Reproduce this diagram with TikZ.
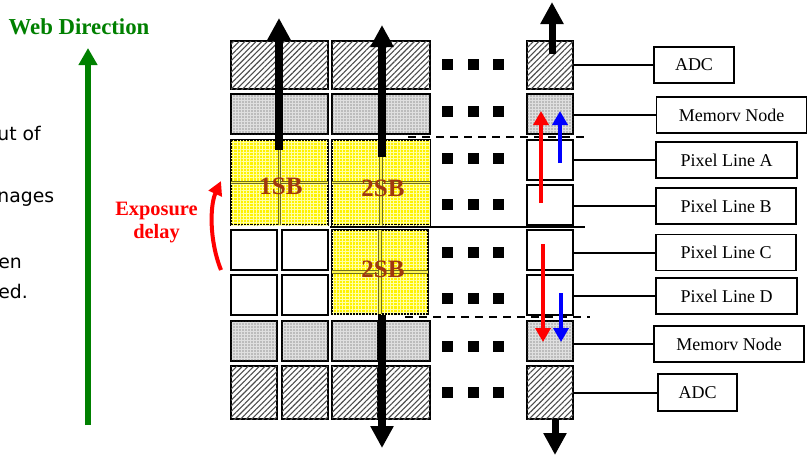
\documentclass[tikz,border=0pt]{standalone}
\usepackage{fontspec}
\setmainfont{Liberation Serif}
\newfontfamily\handfont{DejaVu Sans}
\usepackage{tikz}
\usetikzlibrary{arrows.meta, positioning, calc, patterns, patterns.meta}
\definecolor{webgreen}{RGB}{0,128,0}
\definecolor{sbbrown}{RGB}{160,55,15}
\definecolor{sbedge}{RGB}{110,110,30}
\tikzset{
  cell/.style={rectangle, draw=black, line width=1pt, inner sep=0pt, outer sep=0pt},
  adccell/.style={cell, fill=white,
    postaction={pattern={Lines[angle=45,distance=2pt,line width=0.55pt]}, pattern color=black!70}},
  memcell/.style={cell, fill=gray!25,
    postaction={pattern={Dots[distance=1.5pt,radius=0.35pt]}, pattern color=black!70}},
  pixcell/.style={cell, fill=white},
  sbcell/.style={cell, fill=yellow,
    postaction={pattern={Hatch[angle=0,distance=1.6pt,line width=0.25pt]}, pattern color=yellow!35!white}},
  sbline/.style={draw=sbedge, line width=0.4pt, double=yellow!70!white, double distance=0.8pt},
  sbtext/.style={font=\fontsize{12.5}{14}\selectfont\bfseries, text=sbbrown},
  dotsq/.style={rectangle, fill=black, minimum size=5.5pt, inner sep=0pt},
  bigarr/.style={-{Triangle[width=11pt,length=11pt]}, line width=4pt, color=black},
  smallarr/.style={-{Triangle[width=7.5pt,length=7pt]}, line width=2pt},
  tag/.style={rectangle, draw=black, line width=0.9pt, inner sep=0pt,
    minimum height=18pt, font=\fontsize{9}{10}\selectfont},
  conn/.style={line width=1pt, color=black},
  sepdash/.style={line width=1pt, dash pattern=on 4pt off 3pt},
  sidetext/.style={anchor=base west, inner sep=0pt, font=\handfont\fontsize{9.4}{11}\selectfont}
}
\begin{document}
\begin{tikzpicture}[x=0.5pt, y=-0.5pt]
  \useasboundingbox (0,0) rectangle (808,456);

  % left side
  \node[sidetext] (frag1) at (-3,140) {ut of};
  \node[sidetext] (frag2) at (-3,202) {nages};
  \node[sidetext] (frag3) at (-2,268) {en};
  \node[sidetext] (frag4) at (-2,298) {ed.};

  \node[font=\fontsize{11.4}{13}\selectfont\bfseries, text=webgreen] (webdir) at (79,27) {Web Direction};
  \coordinate (webS) at (88,425);
  \coordinate (webT) at (88,48);
  \draw[-{Triangle[width=9pt,length=8.5pt]}, line width=3pt, webgreen] (webS) -- (webT);

  \node[align=center, font=\fontsize{10.2}{11.5}\selectfont\bfseries, text=red] (expo) at (156.5,223) {Exposure\\delay};
  \coordinate (expS) at (221,270);
  \coordinate (expT) at (221,181);
  \draw[-{Triangle[width=7pt,length=7pt]}, line width=2pt, red] (expS) .. controls (209,240) and (210,205) .. (expT);

  % ADC rows
  \node[adccell, minimum width=48.5pt, minimum height=24pt] (adcT1) at (279.5,65) {};
  \node[adccell, minimum width=49pt, minimum height=24pt] (adcT2) at (381,65) {};
  \node[adccell, minimum width=23pt, minimum height=24pt] (adcTR) at (550,65) {};
  \node[adccell, minimum width=23pt, minimum height=26.5pt] (adcB1) at (254,392.5) {};
  \node[adccell, minimum width=23pt, minimum height=26.5pt] (adcB2) at (305,392.5) {};
  \node[adccell, minimum width=23pt, minimum height=26.5pt] (adcB3) at (355,392.5) {};
  \node[adccell, minimum width=23.5pt, minimum height=26.5pt] (adcB4) at (406.5,392.5) {};
  \node[adccell, minimum width=23pt, minimum height=26.5pt] (adcBR) at (550,392.5) {};

  % memory rows
  \node[memcell, minimum width=48.5pt, minimum height=20pt] (memT1) at (279.5,114) {};
  \node[memcell, minimum width=49pt, minimum height=20pt] (memT2) at (381,114) {};
  \node[memcell, minimum width=23pt, minimum height=20pt] (memTR) at (550,114) {};
  \node[memcell, minimum width=23pt, minimum height=20pt] (memB1) at (254,341) {};
  \node[memcell, minimum width=23pt, minimum height=20pt] (memB2) at (305,341) {};
  \node[memcell, minimum width=23pt, minimum height=20pt] (memB3) at (355,341) {};
  \node[memcell, minimum width=23.5pt, minimum height=20pt] (memB4) at (406.5,341) {};
  \node[memcell, minimum width=23pt, minimum height=20pt] (memBR) at (550,341) {};

  % pixel lines
  \node[pixcell, minimum width=23pt, minimum height=20pt] (pxA) at (550,160) {};
  \node[pixcell, minimum width=23pt, minimum height=20pt] (pxB) at (550,205) {};
  \node[pixcell, minimum width=23pt, minimum height=20pt] (pxC) at (550,250) {};
  \node[pixcell, minimum width=23pt, minimum height=20pt] (pxD) at (550,295) {};
  \node[pixcell, minimum width=23pt, minimum height=20pt] (pxC1) at (254,250) {};
  \node[pixcell, minimum width=23pt, minimum height=20pt] (pxC2) at (305,250) {};
  \node[pixcell, minimum width=23pt, minimum height=20pt] (pxD1) at (254,295) {};
  \node[pixcell, minimum width=23pt, minimum height=20pt] (pxD2) at (305,295) {};

  % sub blocks
  \node[sbcell, minimum width=48.5pt, minimum height=42.5pt] (sb1) at (279.5,182.5) {};
  \node[sbcell, minimum width=49pt, minimum height=42.5pt] (sb2) at (381,182.5) {};
  \node[sbcell, minimum width=48pt, minimum height=42pt] (sb3) at (380,272) {};
  \draw[sbline] (sb1.west) -- (sb1.east);
  \draw[sbline] (sb1.north) -- (sb1.south);
  \draw[sbline] (sb2.west) -- (sb2.east);
  \draw[sbline] (sb2.north) -- (sb2.south);
  \draw[sbline] (sb3.west) -- (sb3.east);
  \draw[sbline] (sb3.north) -- (sb3.south);

  % row separators
  \coordinate (dTL) at (408,137);
  \coordinate (dTR) at (588,137);
  \coordinate (dBL) at (405,317);
  \coordinate (dBR) at (590,317);
  \coordinate (sL) at (330,227);
  \coordinate (sR) at (585,227);
  \draw[sepdash] (dTL) -- (dTR);
  \draw[sepdash] (dBL) -- (dBR);
  \draw[line width=0.9pt] (sL) -- (sR);

  % dots between columns
  \foreach \y [count=\r] in {64,111,158,204,252,298,346,392}
    \foreach \x [count=\c] in {447.5,473,498.5}
      \node[dotsq] (dot\r\c) at (\x,\y) {};

  % readout arrows
  \coordinate (u1S) at (279,150);
  \coordinate (u1T) at (279,18);
  \coordinate (u2S) at (382,157);
  \coordinate (u2T) at (382,25);
  \coordinate (d2S) at (382,315);
  \coordinate (d2T) at (382,448);
  \coordinate (uRS) at (552,54);
  \coordinate (uRT) at (552,2);
  \coordinate (dRS) at (555,419);
  \coordinate (dRT) at (555,455);
  \draw[bigarr] (u1S) -- (u1T);
  \draw[bigarr] (u2S) -- (u2T);
  \draw[bigarr] (d2S) -- (d2T);
  \draw[bigarr, line width=3.5pt] (uRS) -- (uRT);
  \draw[bigarr, line width=3.5pt] (dRS) -- (dRT);

  \node[sbtext] (t1SB) at (281,186) {1SB};
  \node[sbtext] (t2SBa) at (383,188) {2SB};
  \node[sbtext] (t2SBb) at (383,269) {2SB};

  % charge transfer
  \coordinate (rAS) at (541,203);
  \coordinate (rAT) at (541,111);
  \coordinate (bAS) at (560,163);
  \coordinate (bAT) at (560,111);
  \coordinate (rBS) at (543,244);
  \coordinate (rBT) at (543,342);
  \coordinate (bBS) at (561,293);
  \coordinate (bBT) at (561,342);
  \draw[smallarr, red] (rAS) -- (rAT);
  \draw[smallarr, blue] (bAS) -- (bAT);
  \draw[smallarr, red] (rBS) -- (rBT);
  \draw[smallarr, blue] (bBS) -- (bBT);

  % labels
  \node[tag, minimum width=40pt] (lADCt) at (694,65) {ADC};
  \node[tag, minimum width=75pt] (lMemt) at (731.5,115) {Memorv Node};
  \node[tag, minimum width=70.5pt] (lA) at (726.5,160) {Pixel Line A};
  \node[tag, minimum width=70pt] (lB) at (726,206) {Pixel Line B};
  \node[tag, minimum width=70pt] (lC) at (726,252.5) {Pixel Line C};
  \node[tag, minimum width=70.5pt] (lD) at (726.5,296) {Pixel Line D};
  \node[tag, minimum width=75pt] (lMemb) at (729,344) {Memorv Node};
  \node[tag, minimum width=39.5pt, minimum height=18.5pt] (lADCb) at (697.5,392.5) {ADC};

  \draw[conn] (adcTR.east |- lADCt.west) -- (lADCt.west);
  \draw[conn] (memTR.east |- lMemt.west) -- (lMemt.west);
  \draw[conn] (pxA.east |- lA.west) -- (lA.west);
  \draw[conn] (pxB.east |- lB.west) -- (lB.west);
  \draw[conn] (pxC.east |- lC.west) -- (lC.west);
  \draw[conn] (pxD.east |- lD.west) -- (lD.west);
  \draw[conn] (memBR.east |- lMemb.west) -- (lMemb.west);
  \draw[conn] (adcBR.east |- lADCb.west) -- (lADCb.west);
\end{tikzpicture}
\end{document}
